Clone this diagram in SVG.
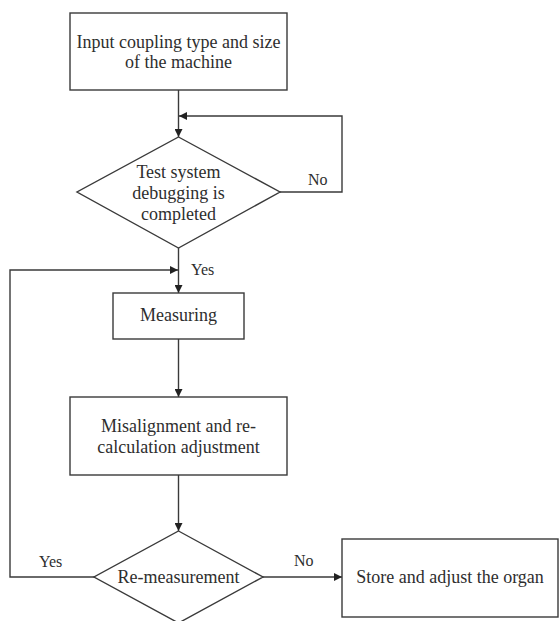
<svg xmlns="http://www.w3.org/2000/svg" width="559" height="621" viewBox="0 0 559 621">
<style>
.box{fill:#fff;stroke:#3a3a3a;stroke-width:1.4}
.ln{fill:none;stroke:#3a3a3a;stroke-width:1.4}
text{font-family:"Liberation Serif","Times New Roman",serif;font-size:18px;fill:#2e2e2e}
.s{font-size:16px}
.c{text-anchor:middle}
</style>
<defs>
<marker id="ah" viewBox="0 0 10 10" refX="10" refY="5" markerWidth="9" markerHeight="8" markerUnits="userSpaceOnUse" orient="auto">
<path d="M0,0 L10,5 L0,10 z" fill="#222"/>
</marker>
</defs>
<rect width="559" height="621" fill="#fff"/>
<g id="connectors">
<path class="ln" d="M178.5,90 V137" marker-end="url(#ah)"/>
<path class="ln" d="M178.5,248 V293" marker-end="url(#ah)"/>
<path class="ln" d="M178.5,339 V397" marker-end="url(#ah)"/>
<path class="ln" d="M178.5,475 V531" marker-end="url(#ah)"/>
<path class="ln" d="M280,192 H342 V116 H179" marker-end="url(#ah)"/>
<path class="ln" d="M94,577 H10 V270 H178" marker-end="url(#ah)"/>
<path class="ln" d="M263,577 H342" marker-end="url(#ah)"/>
<text class="s" x="308" y="185">No</text>
<text class="s" x="191" y="275">Yes</text>
<text class="s" x="39" y="567">Yes</text>
<text class="s" x="294" y="566">No</text>
</g>
<g id="input">
<rect class="box" x="70" y="13" width="217" height="77"/>
<text class="c" x="178.5" y="48">Input coupling type and size</text>
<text class="c" x="178.5" y="68">of the machine</text>
</g>
<g id="debug">
<polygon class="box" points="178.5,137 280,192 178.5,248 77,192"/>
<text class="c" x="178.5" y="178">Test system</text>
<text class="c" x="178.5" y="199">debugging is</text>
<text class="c" x="178.5" y="220">completed</text>
</g>
<g id="measuring">
<rect class="box" x="113" y="293" width="131" height="46"/>
<text class="c" x="178.5" y="321">Measuring</text>
</g>
<g id="misalignment">
<rect class="box" x="70" y="397" width="217" height="78"/>
<text class="c" x="178.5" y="432">Misalignment and re-</text>
<text class="c" x="178.5" y="453">calculation adjustment</text>
</g>
<g id="remeasure">
<polygon class="box" points="178.5,531 263,577 178.5,623 94,577"/>
<text class="c" x="178.5" y="583">Re-measurement</text>
</g>
<g id="store">
<rect class="box" x="342" y="539" width="216" height="78"/>
<text class="c" x="450" y="583">Store and adjust the organ</text>
</g>
</svg>
